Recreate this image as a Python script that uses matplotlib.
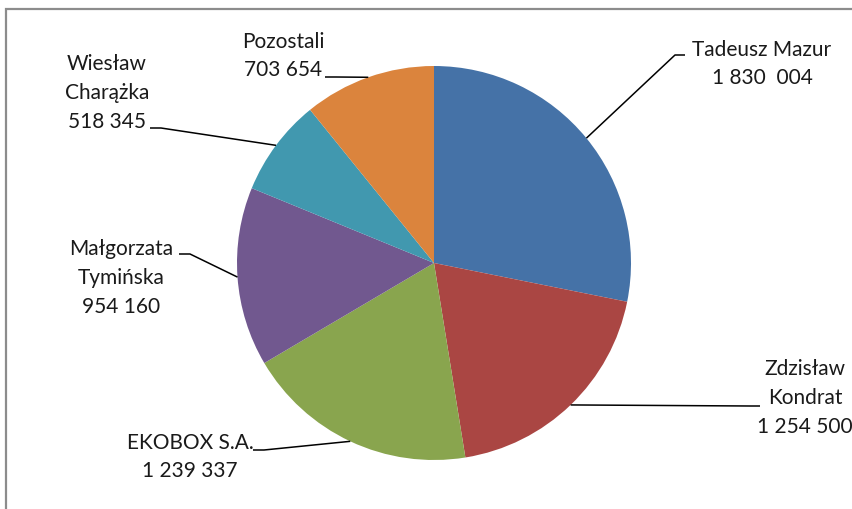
import numpy as np
import matplotlib
matplotlib.use("Agg")
import matplotlib.pyplot as plt

plt.rcParams['font.family'] = ['Lato', 'DejaVu Sans']

# ---- data ----
names = ["Tadeusz Mazur", "Zdzisław\nKondrat", "EKOBOX S.A.",
         "Małgorzata\nTymińska", "Wiesław\nCharążka", "Pozostali"]
values = [1830004, 1254500, 1239337, 954160, 518345, 703654]
value_labels = ["1 830  004", "1 254 500", "1 239 337", "954 160", "518 345", "703 654"]
colors = ["#4572A7", "#AA4643", "#89A54E", "#71588F", "#4198AF", "#DB843D"]

# ---- layout (pixel positions, y measured from top) ----
W, H = 853, 509
pie_center = (434, 263)
pie_radius = 197
label_pos = [(762, 64), (805, 398), (190, 457), (121, 278), (107, 93), (283, 56)]
leader_anchor = [(685, 55), (760, 406), (253, 450), (179, 254), (150, 128), (325, 77)]
leader_knee = [(675, 55), (750, 406), (264, 450), (190, 254), (161, 128), (336, 77)]


def P(x, y):
    return x, H - y


fig = plt.figure(figsize=(W / 100, H / 100), dpi=100)
ax = fig.add_axes([0, 0, 1, 1])

wedges, _ = ax.pie(values, colors=colors, startangle=90, counterclock=False,
                   center=P(*pie_center), radius=pie_radius, frame=False,
                   wedgeprops=dict(linewidth=0))
ax.set_xlim(0, W)
ax.set_ylim(0, H)
ax.set_aspect('equal')
ax.axis('off')

for i, w in enumerate(wedges):
    mid = np.deg2rad((w.theta1 + w.theta2) / 2)
    cx, cy = w.center
    ex = cx + w.r * np.cos(mid)
    ey = cy + w.r * np.sin(mid)
    kx, ky = P(*leader_knee[i])
    ax_, ay_ = P(*leader_anchor[i])
    ax.plot([ex, kx, ax_], [ey, ky, ay_], color='black', lw=1.1,
            solid_capstyle='butt', zorder=3)
    tx, ty = P(*label_pos[i])
    ax.text(tx, ty, names[i] + "\n" + value_labels[i], ha='center', va='center',
            multialignment='center', fontsize=15, color='#1a1a1a',
            linespacing=1.56)

# chart frame
ax.plot([6, 6, W + 5], [-5, H - 9, H - 9], color='#8c8c8c', lw=1.6,
        clip_on=False, solid_joinstyle='miter')

fig.savefig("out.png", dpi=100)
